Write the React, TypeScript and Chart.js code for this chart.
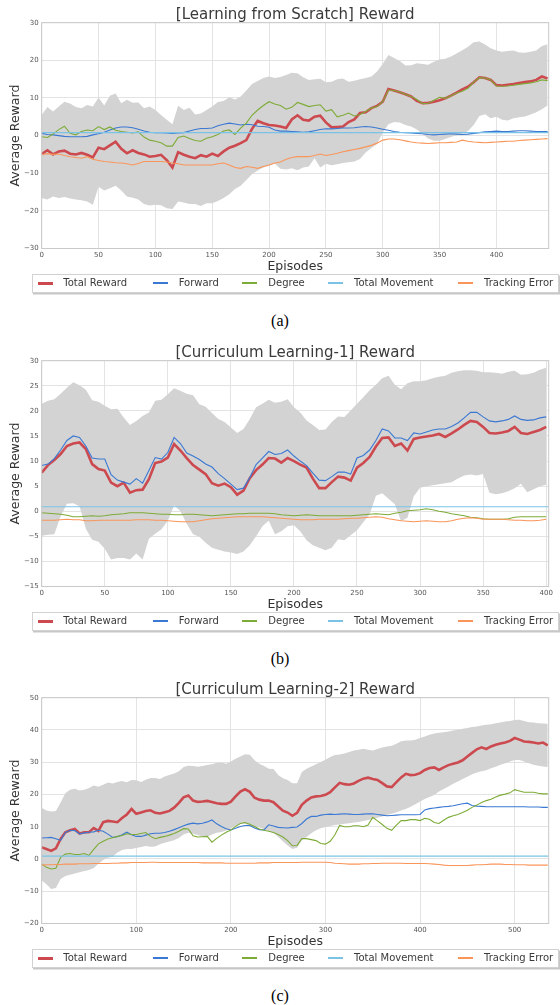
import React, { useEffect, useRef } from "react";
import { Chart, registerables } from "chart.js";

Chart.register(...registerables);

const FONT = "'DejaVu Sans', 'Noto Sans', sans-serif";
const RED = "#cc4a4f";
const BLUE = "#3a78d3";
const GREEN = "#7dab37";
const LIGHTBLUE = "#7ac3e6";
const ORANGE = "#fa9559";
const BAND = "#d3d3d3";

const LEGEND_LABELS = ["Total Reward", "Forward", "Degree", "Total Movement", "Tracking Error"];
const LEGEND_COLORS = [RED, BLUE, GREEN, LIGHTBLUE, ORANGE];

// ---------- (a) Learning from Scratch : sampled every 5 episodes, 0..445 ----------
const xTicksA = [0, 50, 100, 150, 200, 250, 300, 350, 400];
const yTicksA = [-30, -20, -10, 0, 10, 20, 30];
const totalA = [-4.9,-3.9,-5.0,-4.2,-4.0,-4.8,-5.0,-4.6,-5.1,-5.8,
-3.2,-3.6,-2.6,-1.6,-3.5,-4.7,-3.9,-4.6,-5.0,-5.6,
-5.4,-5.1,-6.5,-8.5,-4.4,-5.1,-5.6,-6.0,-5.2,-5.6,
-4.8,-5.4,-4.2,-3.2,-2.7,-2.0,-1.2,1.8,3.9,3.3,
2.8,2.7,2.4,2.0,4.3,5.4,4.2,4.0,5.0,5.3,
3.5,2.2,2.3,2.4,3.6,4.3,6.0,6.2,7.3,7.9,
9.0,12.4,12.0,11.5,11.0,10.4,9.2,8.6,8.7,9.0,
9.4,9.9,10.6,11.4,12.3,13.0,14.2,15.5,15.3,14.8,
13.4,13.3,13.5,13.7,14.0,14.2,14.4,14.8,15.7,15.2];
const forwardA = [0.6,0.3,0.2,0.0,-0.2,-0.3,-0.3,-0.3,-0.2,0.2,
0.5,0.9,1.5,2.0,2.3,2.3,2.1,1.7,1.2,0.9,
0.8,0.8,0.7,0.6,0.7,0.8,1.2,1.6,1.9,1.9,
2.0,2.6,3.0,3.3,3.1,2.8,3.0,2.9,2.5,2.4,
2.2,1.5,1.2,1.2,1.1,1.0,0.9,1.0,1.3,1.6,
1.8,1.8,1.9,2.0,2.0,2.1,2.3,2.4,2.3,2.0,
1.7,1.4,1.1,0.9,0.8,0.7,0.6,0.5,0.3,0.2,
0.3,0.4,0.5,0.4,0.3,0.4,0.6,0.8,1.0,1.1,
1.2,1.1,1.1,1.2,1.3,1.3,1.2,1.1,1.1,1.1];
const degreeA = [-0.3,-0.5,0.4,1.6,2.5,0.6,0.2,1.1,1.5,1.3,
2.4,1.6,2.3,1.4,1.1,0.9,0.7,1.0,-0.4,-1.2,
-1.5,-1.9,-2.8,-2.8,-0.5,-0.1,-0.8,-1.3,-1.5,-0.7,
-0.3,0.3,1.2,1.5,0.3,2.0,3.3,5.4,6.8,8.0,
9.0,8.4,8.0,7.0,7.5,8.8,8.3,7.7,8.0,8.2,
6.5,6.9,5.0,5.4,6.0,5.2,5.6,6.4,7.3,7.7,
9.0,12.1,12.0,11.6,11.0,10.4,9.6,8.5,8.6,9.4,
10.2,9.9,10.6,11.3,11.8,12.6,14.2,15.4,15.3,14.8,
13.2,13.1,13.2,13.4,13.6,13.8,14.0,14.3,14.8,14.6];
const trackingA = [-5.1,-4.8,-5.0,-4.9,-5.3,-5.6,-5.8,-6.0,-5.6,-6.3,
-6.6,-6.9,-7.0,-7.2,-7.3,-7.5,-7.8,-7.4,-6.9,-6.9,
-6.9,-6.9,-7.0,-7.3,-7.5,-7.8,-7.8,-7.8,-7.8,-7.8,
-7.8,-7.5,-7.3,-7.8,-8.5,-8.7,-8.2,-8.4,-8.7,-8.2,
-7.8,-7.3,-7.0,-6.3,-5.8,-5.6,-5.6,-5.6,-5.3,-4.9,
-5.3,-5.0,-4.7,-4.3,-4.0,-3.7,-3.4,-3.0,-2.6,-2.0,
-1.2,-0.9,-0.9,-1.1,-1.4,-1.7,-1.9,-2.0,-2.1,-2.0,
-1.9,-1.9,-1.8,-1.7,-1.2,-1.5,-1.7,-1.8,-1.9,-1.8,
-1.7,-1.6,-1.5,-1.5,-1.3,-1.2,-1.1,-1.0,-0.9,-0.8];
const upperA = [5.5,7.6,6.4,7.7,9.0,8.5,7.6,7.3,8.1,7.7,
10.1,8.0,10.6,11.2,8.6,9.5,8.7,8.8,7.3,7.7,
6.8,5.5,4.2,3.0,7.9,6.8,7.4,5.6,5.9,6.8,
7.7,8.9,9.2,10.2,9.6,10.4,12.0,13.7,14.5,15.3,
15.7,15.3,15.6,16.1,16.7,16.6,15.5,14.8,15.0,15.1,
14.2,14.3,15.0,15.2,14.3,14.6,15.0,15.3,15.7,17.0,
19.0,21.4,20.6,19.8,18.6,18.7,19.2,19.0,18.8,19.6,
20.2,20.4,21.0,21.8,22.7,23.6,24.8,25.0,24.2,23.2,
22.6,22.3,22.5,22.6,22.1,22.0,22.3,22.6,23.8,24.3];
const lowerA = [-16.6,-17.0,-16.2,-16.6,-16.3,-16.7,-17.0,-17.2,-17.5,-18.4,
-13.6,-14.6,-14.0,-13.3,-14.6,-16.2,-16.5,-17.0,-18.2,-18.6,
-18.4,-18.5,-19.3,-19.5,-17.5,-17.8,-18.2,-18.2,-18.7,-18.0,
-18.0,-17.4,-16.6,-15.6,-14.2,-13.3,-11.8,-10.3,-9.3,-8.5,
-8.0,-7.4,-8.8,-9.0,-8.7,-9.2,-8.5,-8.2,-6.0,-8.5,
-7.5,-7.9,-7.6,-7.3,-7.1,-6.9,-6.2,-4.5,-3.3,-2.2,
0.8,3.0,3.6,3.5,2.8,2.4,1.6,0.4,-0.8,-1.4,
-1.4,-0.9,-0.4,0.1,0.5,1.2,2.8,5.2,5.7,4.6,
5.0,4.2,4.0,4.6,4.9,5.1,5.6,6.2,7.0,8.0];
const movementA = [0.8, 0.8];
const movementEpA = [0, 446];

// ---------- (b) Curriculum Learning-1 : every 5 episodes, 0..400 ----------
const xTicksB = [0, 50, 100, 150, 200, 250, 300, 350, 400];
const yTicksB = [-15, -10, -5, 0, 5, 10, 15, 20, 25, 30];
const totalB = [7.7,9.2,10.2,11.4,13.0,13.5,13.7,12.4,9.4,8.4,
8.1,5.7,5.0,5.7,3.7,4.2,4.3,6.4,9.6,9.9,
10.7,13.4,12.1,10.6,9.2,8.3,7.4,5.6,5.1,5.5,
4.8,3.3,4.1,6.6,8.2,9.3,10.6,10.5,9.7,10.6,
10.0,9.3,8.7,6.5,4.6,4.6,5.8,6.9,6.7,6.1,
8.7,9.6,10.8,12.9,14.6,14.7,13.0,13.5,12.1,14.4,
14.7,14.9,15.1,15.4,14.8,15.5,16.3,17.2,18.0,17.8,
16.8,15.6,15.5,15.7,16.0,16.8,15.6,15.4,15.8,16.2,
16.8];
const forwardB = [9.1,9.4,10.5,12.2,14.1,15.0,14.7,13.0,10.6,10.4,
10.4,7.3,6.2,5.8,5.4,6.5,5.6,8.1,10.7,10.4,
11.7,14.7,13.5,11.6,11.0,10.3,9.4,8.8,7.5,6.5,
5.4,4.3,4.6,6.7,9.3,10.6,11.9,11.3,11.5,12.2,
11.0,10.0,9.1,7.6,6.2,6.1,6.9,7.8,7.8,7.4,
10.6,11.1,12.2,14.1,16.4,16.0,14.6,14.6,14.1,15.6,
15.4,15.8,16.2,16.4,16.4,16.9,17.6,18.6,19.7,19.7,
18.8,18.0,17.8,18.0,18.3,19.0,18.3,18.1,18.2,18.6,
18.8];
const degreeB = [-0.3,-0.4,-0.5,-0.6,-0.8,-1.1,-1.1,-1.0,-0.9,-1.0,
-0.9,-0.7,-0.6,-0.5,-0.3,-0.3,-0.3,-0.4,-0.5,-0.6,
-0.6,-0.7,-0.7,-0.6,-0.6,-0.7,-0.8,-0.9,-0.8,-0.7,
-0.6,-0.5,-0.5,-0.4,-0.4,-0.4,-0.4,-0.5,-0.7,-0.8,
-0.9,-0.8,-0.7,-0.8,-0.9,-0.9,-0.9,-0.9,-0.9,-0.9,
-0.8,-0.7,-0.6,-0.5,-0.6,-0.7,-0.4,-0.2,0.1,0.2,
0.3,0.5,0.3,0.0,-0.2,-0.5,-0.7,-0.9,-1.2,-1.3,
-1.5,-1.6,-1.6,-1.6,-1.5,-1.2,-1.1,-1.1,-1.1,-1.1,
-1.1];
const trackingB = [-1.8,-1.8,-1.8,-1.7,-1.6,-1.7,-1.7,-1.9,-1.9,-1.8,
-1.8,-1.8,-1.8,-1.8,-1.8,-1.7,-1.7,-1.7,-1.8,-1.8,
-1.9,-2.0,-2.1,-2.1,-2.1,-1.9,-1.7,-1.5,-1.4,-1.3,
-1.2,-1.1,-1.1,-1.1,-1.1,-1.1,-1.2,-1.3,-1.4,-1.5,
-1.6,-1.7,-1.7,-1.7,-1.6,-1.6,-1.6,-1.6,-1.5,-1.4,
-1.4,-1.3,-1.2,-1.1,-1.2,-1.5,-1.7,-1.9,-2.0,-2.1,
-2.0,-1.9,-2.0,-2.1,-2.1,-1.9,-1.6,-1.4,-1.3,-1.4,
-1.6,-1.6,-1.6,-1.6,-1.7,-1.8,-1.8,-1.9,-1.9,-1.8,
-1.6];
const upperB = [21.4,22.0,22.3,23.4,24.6,25.7,25.1,24.2,22.1,21.8,
21.0,20.3,20.4,18.7,17.2,18.0,19.0,19.7,22.0,22.2,
23.3,24.5,24.0,23.4,23.1,21.3,20.8,19.6,18.4,17.8,
16.7,15.6,16.4,18.4,20.7,21.4,22.2,21.6,21.8,22.3,
20.7,19.7,18.1,17.2,16.2,16.3,17.8,18.9,18.8,20.1,
21.4,22.7,24.1,25.2,26.5,27.0,25.2,24.3,25.5,25.9,
25.9,26.1,26.5,26.8,27.0,27.6,27.9,28.1,28.1,28.0,
27.7,27.7,27.6,27.4,27.8,28.0,27.2,27.3,27.6,28.2,
28.6];
const lowerB = [-4.9,-4.7,-4.6,-1.0,1.5,1.6,1.0,-3.5,-5.7,-6.1,
-7.5,-9.6,-9.3,-9.3,-9.6,-8.4,-9.6,-5.5,-4.5,-3.6,
-1.9,1.2,0.0,-2.5,-4.6,-5.1,-6.3,-7.3,-7.7,-8.0,
-8.2,-8.5,-8.0,-6.8,-5.0,-3.0,-1.9,-4.6,-4.0,-3.0,
-2.8,-4.0,-5.8,-6.8,-7.3,-7.8,-7.3,-5.6,-5.8,-4.8,
-3.8,-2.2,-0.6,3.1,3.6,2.5,1.4,-2.0,-1.3,3.0,
4.7,5.0,5.2,5.4,5.6,5.8,6.5,7.1,7.3,7.1,
7.4,3.7,3.4,3.6,4.0,4.6,5.5,3.8,4.4,5.0,
5.3];
const movementB = [0.9, 0.9];
const movementEpB = [0, 402];

// ---------- (c) Curriculum Learning-2 : every 5 episodes, 0..535 ----------
const xTicksC = [0, 100, 200, 300, 400, 500];
const yTicksC = [-20, -10, 0, 10, 20, 30, 40, 50];
const totalC = [3.6,3.1,2.5,3.3,6.2,8.3,8.9,9.3,7.9,8.3,
8.3,9.6,8.7,11.4,11.8,11.6,11.4,12.7,13.8,15.5,
14.0,14.4,14.9,15.1,14.3,14.1,14.5,14.9,15.9,17.4,
19.1,19.7,18.1,17.7,17.8,18.0,17.7,17.3,17.1,17.1,
17.8,19.4,20.9,21.6,20.8,19.0,18.4,18.1,18.1,17.6,
16.3,15.0,14.4,13.4,14.3,16.8,18.1,19.1,19.4,19.5,
19.9,20.7,22.2,23.6,23.2,23.0,23.4,24.2,24.9,25.2,
24.8,24.5,23.5,22.5,22.3,23.8,25.3,26.4,26.0,26.1,
26.6,27.6,28.2,28.4,27.6,28.4,29.1,29.5,29.9,30.6,
31.8,32.9,34.0,34.6,34.1,34.9,35.4,35.8,36.1,36.6,
37.5,37.0,36.4,36.3,36.1,35.8,36.1,35.2];
const forwardC = [6.5,6.6,6.7,6.3,5.8,8.2,8.9,8.8,7.8,8.1,
8.3,8.4,8.9,8.6,7.7,6.7,6.9,7.5,8.3,7.5,
7.0,7.0,7.4,7.8,8.0,8.0,8.2,8.6,9.1,9.7,
10.3,10.8,11.1,10.9,11.1,11.5,12.1,10.9,10.1,9.4,
9.0,9.5,10.1,10.4,10.4,9.6,9.1,9.0,10.6,10.2,
9.8,9.7,9.6,9.8,9.9,11.0,12.4,13.2,13.2,13.6,
13.8,13.9,13.8,13.9,14.0,13.9,13.8,13.8,13.9,14.0,
14.0,13.8,13.6,13.4,13.5,13.6,13.7,13.7,13.7,13.7,
13.8,15.2,15.6,15.8,16.0,16.2,16.3,16.5,16.8,17.1,
17.3,16.6,16.4,16.3,16.2,16.2,16.2,16.2,16.2,16.2,
16.2,16.2,16.2,16.1,16.1,16.1,16.0,16.0];
const degreeC = [-1.6,-2.6,-3.1,-2.9,0.5,1.5,1.7,1.4,1.4,1.7,
1.1,3.0,4.7,5.5,6.2,6.6,7.0,7.3,7.8,7.6,
7.6,7.9,8.2,7.0,6.3,6.7,7.0,7.4,7.9,8.6,
9.4,9.3,7.2,6.8,6.9,7.0,5.2,6.4,7.4,8.3,
9.0,10.1,11.0,11.3,10.8,10.1,9.3,8.9,8.6,8.2,
7.6,6.8,5.7,4.1,4.2,6.3,6.3,6.0,5.7,4.8,
4.6,5.5,7.5,10.4,10.0,10.0,10.3,10.3,10.0,10.5,
12.9,11.8,10.7,9.5,8.9,10.5,11.9,11.9,12.2,12.2,
11.9,12.6,12.3,11.3,11.0,12.0,12.9,13.4,13.8,14.4,
15.1,16.0,16.7,17.5,18.1,18.5,19.2,19.8,20.1,20.5,
21.5,21.1,20.7,20.7,20.7,20.4,20.2,20.2];
const trackingC = [-1.9,-1.8,-1.8,-1.7,-1.7,-1.6,-1.6,-1.6,-1.5,-1.5,
-1.5,-1.4,-1.4,-1.4,-1.4,-1.3,-1.3,-1.2,-1.2,-1.1,
-1.1,-1.1,-1.1,-1.0,-1.0,-1.1,-1.1,-1.1,-1.1,-1.1,
-1.1,-1.1,-1.1,-1.1,-1.2,-1.2,-1.2,-1.2,-1.2,-1.3,
-1.3,-1.3,-1.3,-1.3,-1.3,-1.3,-1.2,-1.2,-1.2,-1.1,
-1.1,-1.1,-1.1,-1.1,-1.1,-1.0,-1.0,-1.0,-1.0,-1.0,
-1.0,-1.1,-1.3,-1.4,-1.5,-1.6,-1.6,-1.6,-1.5,-1.5,
-1.4,-1.4,-1.3,-1.3,-1.3,-1.3,-1.3,-1.4,-1.4,-1.4,
-1.4,-1.4,-1.5,-1.6,-1.7,-1.9,-2.0,-2.0,-2.0,-2.0,
-2.0,-1.9,-1.8,-1.8,-1.7,-1.6,-1.6,-1.6,-1.7,-1.7,
-1.8,-1.8,-1.8,-1.9,-1.9,-1.9,-1.9,-1.9];
const upperC = [15.8,15.0,14.7,14.9,17.5,20.4,21.5,21.8,21.2,21.5,
22.0,22.8,22.4,23.0,23.7,23.4,23.9,24.2,23.8,24.5,
24.4,23.9,24.6,25.1,25.1,24.8,25.6,26.0,26.5,27.2,
28.5,28.9,28.8,28.6,28.8,29.1,29.4,29.8,29.9,29.5,
30.2,31.1,31.8,32.5,32.3,30.6,29.5,28.8,28.0,27.9,
26.0,25.0,24.5,23.5,23.5,27.0,28.0,28.7,29.4,30.1,
30.8,31.6,32.2,32.4,32.7,33.2,33.6,33.9,34.2,33.9,
33.6,34.1,34.6,34.9,35.1,35.7,36.5,36.7,36.7,37.0,
37.5,38.0,38.5,38.9,39.1,39.3,39.5,39.8,40.1,40.4,
40.6,40.9,41.1,41.4,41.6,41.8,42.1,42.3,42.6,42.8,
43.1,43.2,42.8,42.4,42.3,42.1,42.0,41.9];
const lowerC = [-6.7,-7.8,-9.3,-9.0,-6.2,-5.3,-4.9,-4.5,-4.1,-3.7,
-3.4,-2.8,-1.5,-0.3,0.4,0.7,2.0,2.8,3.1,3.1,
3.4,3.7,4.0,3.8,3.9,4.6,5.0,5.4,5.8,6.5,
7.6,8.1,7.8,7.4,7.0,6.8,7.6,8.1,8.4,8.8,
9.5,10.3,10.9,10.9,10.3,9.8,9.8,9.2,8.6,8.1,
6.8,5.5,4.2,3.1,3.5,5.8,6.8,8.0,8.9,9.5,
9.9,10.2,10.5,10.7,10.9,11.1,11.3,11.5,11.8,12.1,
12.4,12.8,13.2,13.6,14.0,14.5,15.0,15.5,16.2,17.0,
17.8,18.6,19.2,19.8,20.9,21.7,22.5,23.3,24.0,24.8,
25.5,26.3,26.8,27.2,27.5,28.1,28.6,29.2,29.7,30.2,
30.7,30.7,30.2,29.7,29.2,28.9,28.7,28.5];
const movementC = [0.9, 0.9];
const movementEpC = [0, 536];

type PanelSpec = {
  title: string;
  caption: string;
  top: number;
  step: number;
  xMax: number;
  xTicks: number[];
  yTicks: number[];
  total: number[];
  forward: number[];
  degree: number[];
  tracking: number[];
  upper: number[];
  lower: number[];
  movement: number[];
  movementEp: number[];
};

const PANELS: PanelSpec[] = [
  { title: "[Learning from Scratch] Reward", caption: "(a)", top: 0, step: 5, xMax: 446,
    xTicks: xTicksA, yTicks: yTicksA, total: totalA, forward: forwardA, degree: degreeA, tracking: trackingA,
    upper: upperA, lower: lowerA, movement: movementA, movementEp: movementEpA },
  { title: "[Curriculum Learning-1] Reward", caption: "(b)", top: 338, step: 5, xMax: 402,
    xTicks: xTicksB, yTicks: yTicksB, total: totalB, forward: forwardB, degree: degreeB, tracking: trackingB,
    upper: upperB, lower: lowerB, movement: movementB, movementEp: movementEpB },
  { title: "[Curriculum Learning-2] Reward", caption: "(c)", top: 675, step: 5, xMax: 536,
    xTicks: xTicksC, yTicks: yTicksC, total: totalC, forward: forwardC, degree: degreeC, tracking: trackingC,
    upper: upperC, lower: lowerC, movement: movementC, movementEp: movementEpC },
];

const CANVAS_W = 560;
const CANVAS_H = 276;

const framePlugin = {
  id: "axesFrame",
  afterDatasetsDraw(chart: any) {
    const { ctx, chartArea: a } = chart;
    ctx.save();
    ctx.strokeStyle = "#c9c9c9";
    ctx.lineWidth = 1;
    ctx.strokeRect(a.left, a.top, a.right - a.left, a.bottom - a.top);
    ctx.restore();
  },
};

function RewardPanel({ spec }: { spec: PanelSpec }) {
  const ref = useRef<HTMLCanvasElement | null>(null);

  useEffect(() => {
    const canvas = ref.current;
    if (!canvas) return;
    const pts = (arr: number[]) => arr.map((v, i) => ({ x: i * spec.step, y: v }));
    const line = (label: string, data: any[], color: string, width: number, order: number) => ({
      label, data, borderColor: color, backgroundColor: color, borderWidth: width,
      pointRadius: 0, fill: false, tension: 0, order,
    });
    const yMin = spec.yTicks[0];
    const yMax = spec.yTicks[spec.yTicks.length - 1];
    const chart = new Chart(canvas, {
      type: "line",
      data: {
        datasets: [
          line("Total Reward", pts(spec.total), RED, 2.6, 6),
          line("Forward", pts(spec.forward), BLUE, 1.1, 5),
          line("Degree", pts(spec.degree), GREEN, 1.1, 4),
          line("Total Movement", spec.movement.map((v, i) => ({ x: spec.movementEp[i], y: v })), LIGHTBLUE, 1.1, 3),
          line("Tracking Error", pts(spec.tracking), ORANGE, 1.1, 2),
          { label: "upper", data: pts(spec.upper), borderWidth: 0, borderColor: "rgba(0,0,0,0)", pointRadius: 0,
            fill: "+1", backgroundColor: BAND, order: 20 },
          { label: "lower", data: pts(spec.lower), borderWidth: 0, borderColor: "rgba(0,0,0,0)", pointRadius: 0,
            fill: false, order: 21 },
        ],
      } as any,
      options: {
        responsive: false,
        animation: false,
        devicePixelRatio: 1,
        layout: { padding: { left: 0, right: 11.3, top: 0, bottom: CANVAS_H - 274.5 } },
        plugins: {
          legend: { display: false },
          tooltip: { enabled: false },
          title: {
            display: true, text: spec.title, fullSize: false, color: "#3a3a3a",
            font: { family: FONT, size: 15, weight: "normal", lineHeight: 1 },
            padding: { top: 7.5, bottom: 0.2 },
          },
        },
        scales: {
          x: {
            type: "linear", min: 0, max: spec.xMax,
            ticks: {
              color: "#555", font: { family: FONT, size: 7 }, padding: 2, maxRotation: 0, autoSkip: false,
            },
            afterBuildTicks: (s: any) => { s.ticks = spec.xTicks.map((v) => ({ value: v })); },
            grid: { color: "#e3e3e3", drawTicks: false },
            border: { display: false },
            title: {
              display: true, text: "Episodes", color: "#333",
              font: { family: FONT, size: 12.5 }, padding: { top: 0, bottom: 0.3 },
            },
            afterFit: (s: any) => { s.height = 26; },
          },
          y: {
            min: yMin, max: yMax,
            ticks: {
              color: "#555", font: { family: FONT, size: 7 }, padding: 3, autoSkip: false,
              callback: (v: any) => String(v).replace("-", "\u2212"),
            },
            afterBuildTicks: (s: any) => { s.ticks = spec.yTicks.map((v) => ({ value: v })); },
            grid: { color: "#e3e3e3", drawTicks: false },
            border: { display: false },
            title: {
              display: true, text: "Average Reward", color: "#333",
              font: { family: FONT, size: 12.5 }, padding: { top: 8.2, bottom: 0 },
            },
            afterFit: (s: any) => { s.width = 41.7; },
          },
        },
      } as any,
      plugins: [framePlugin],
    });
    return () => chart.destroy();
  }, [spec]);

  const markerX = [38, 153, 242, 328, 458];
  const textX = [63.3, 178.7, 268.3, 354, 484];

  return (
    <>
      <canvas
        ref={ref}
        width={CANVAS_W}
        height={CANVAS_H}
        style={{ position: "absolute", left: 0, top: spec.top, width: CANVAS_W, height: CANVAS_H, display: "block" }}
      />
      <div
        style={{
          position: "absolute", left: 31.5, top: spec.top + 274.3, width: 527, height: 18.4,
          boxSizing: "border-box", border: "1px solid #d2d2d2", background: "#fff",
          boxShadow: "1px 1.5px 0 rgba(0,0,0,0.22)",
        }}
      />
      {LEGEND_LABELS.map((lab, i) => (
        <React.Fragment key={lab}>
          <div
            style={{
              position: "absolute", left: markerX[i], width: 15,
              top: Math.round(spec.top + 282.5) - (i === 0 ? 1 : 1), height: i === 0 ? 3 : 2,
              background: LEGEND_COLORS[i],
            }}
          />
          <div
            style={{
              position: "absolute", left: textX[i], top: spec.top + 276.5, height: 12, lineHeight: "12px",
              fontFamily: FONT, fontSize: 10, color: "#3a3a3a", whiteSpace: "nowrap",
            }}
          >
            {lab}
          </div>
        </React.Fragment>
      ))}
      <div
        style={{
          position: "absolute", left: 0, width: 560, top: spec.top + 312, textAlign: "center",
          fontFamily: "'Liberation Serif', 'DejaVu Serif', serif", fontSize: 16, lineHeight: "18px", color: "#000",
        }}
      >
        {spec.caption}
      </div>
    </>
  );
}

export default function App() {
  return (
    <div style={{ position: "absolute", left: 0, top: 0, width: 560, height: 1005, background: "#fff", overflow: "hidden" }}>
      {PANELS.map((p) => (
        <RewardPanel key={p.caption} spec={p} />
      ))}
    </div>
  );
}
